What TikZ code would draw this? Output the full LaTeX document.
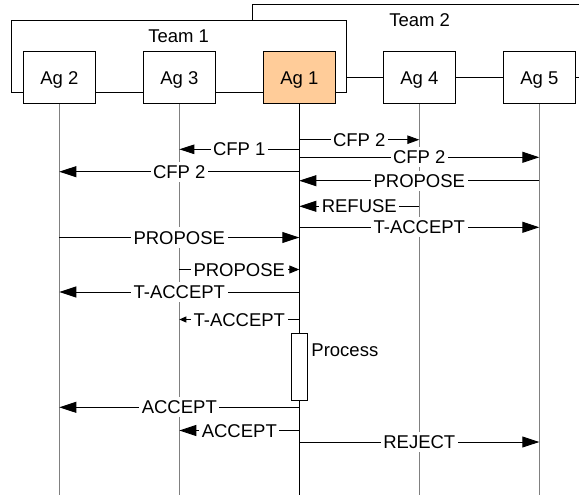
\documentclass[tikz,border=0pt]{standalone}
\usepackage{fontspec}
\setmainfont{Liberation Sans}
\usetikzlibrary{arrows.meta}
\definecolor{agfill}{HTML}{FFCC99}
\definecolor{lifegray}{HTML}{808080}
\begin{document}
\begin{tikzpicture}[x=1pt,y=-1pt,
  every node/.style={font=\fontsize{18.5}{21}\selectfont, text height=15.3pt, text depth=2pt},
  agent/.style={draw=black, line width=0.9pt, fill=white, minimum width=72.5pt, minimum height=52pt, inner sep=0pt},
  team/.style={draw=black, line width=0.9pt, fill=white},
  life/.style={draw=lifegray, line width=1pt},
  mainlife/.style={draw=black, line width=1pt},
  msg/.style={draw=black, line width=0.9pt},
  bigarr/.style={msg, -{Triangle[length=17pt,width=11pt]}},
  cfparr/.style={msg, -{Triangle[length=15pt,width=9.5pt]}},
  medarr/.style={msg, -{Triangle[length=12pt,width=8.5pt]}},
  smallarr/.style={msg, -{Triangle[length=10pt,width=8pt]}},
  tinyarr/.style={msg, -{Triangle[length=7pt,width=6pt]}},
  lbl/.style={fill=white, inner xsep=2.5pt, inner ysep=1.5pt},
  procbox/.style={draw=black, line width=0.9pt, fill=white, minimum width=16pt, minimum height=66.5pt, inner sep=0pt, text height=0pt, text depth=0pt}
]
\useasboundingbox (0,0) rectangle (579,498);
\clip (0,0) rectangle (579,498);

% team frames
\draw[team] (252,4.7) rectangle (600,77.5);
\draw[team] (11.8,20) rectangle (346,92.7);
\node (t1) at (178.6,35.5) {Team 1};
\node (t2) at (419.6,20) {Team 2};

% agents
\node[agent] (a2) at (59.3,77.5) {Ag 2};
\node[agent] (a3) at (179.3,77.5) {Ag 3};
\node[agent, fill=agfill] (a1) at (299.3,77.5) {Ag 1};
\node[agent] (a4) at (419.3,77.5) {Ag 4};
\node[agent] (a5) at (539.3,77.5) {Ag 5};

% lifelines
\foreach \a in {a2,a3,a4,a5} {
  \draw[life] (\a.south) -- (\a |- 0,495);
}
\draw[mainlife] (a1.south) -- (a1 |- 0,495);

% messages
\draw[medarr] (a1 |- 0,139.7) -- node[lbl]{CFP 2} (a4 |- 0,139.7);
\draw[cfparr] (a1 |- 0,149.3) -- node[lbl]{CFP 1} (a3 |- 0,149.3);
\draw[bigarr] (a1 |- 0,157.3) -- node[lbl]{CFP 2} (a5 |- 0,157.3);
\draw[bigarr] (a1 |- 0,171.7) -- node[lbl]{CFP 2} (a2 |- 0,171.7);
\draw[bigarr] (a5 |- 0,180.7) -- node[lbl]{PROPOSE} (a1 |- 0,180.7);
\draw[bigarr] (a4 |- 0,206.3) -- node[lbl]{REFUSE} (a1 |- 0,206.3);
\draw[bigarr] (a1 |- 0,227.3) -- node[lbl]{T-ACCEPT} (a5 |- 0,227.3);
\draw[bigarr] (a2 |- 0,237.5) -- node[lbl]{PROPOSE} (a1 |- 0,237.5);
\draw[smallarr] (a3 |- 0,269.5) -- node[lbl]{PROPOSE} (a1 |- 0,269.5);
\draw[bigarr] (a1 |- 0,292) -- node[lbl]{T-ACCEPT} (a2 |- 0,292);
\draw[tinyarr] (a1 |- 0,319.5) -- node[lbl]{T-ACCEPT} (a3 |- 0,319.5);

% process
\node[procbox] (proc) at (a1 |- 0,366.8) {};
\node[anchor=west, inner xsep=3.5pt, inner ysep=0pt] (ptxt) at (proc.east |- 0,349.4) {Process};

\draw[bigarr] (a1 |- 0,407.3) -- node[lbl]{ACCEPT} (a2 |- 0,407.3);
\draw[bigarr] (a1 |- 0,430.5) -- node[lbl]{ACCEPT} (a3 |- 0,430.5);
\draw[bigarr] (a1 |- 0,442) -- node[lbl]{REJECT} (a5 |- 0,442);
\end{tikzpicture}
\end{document}
